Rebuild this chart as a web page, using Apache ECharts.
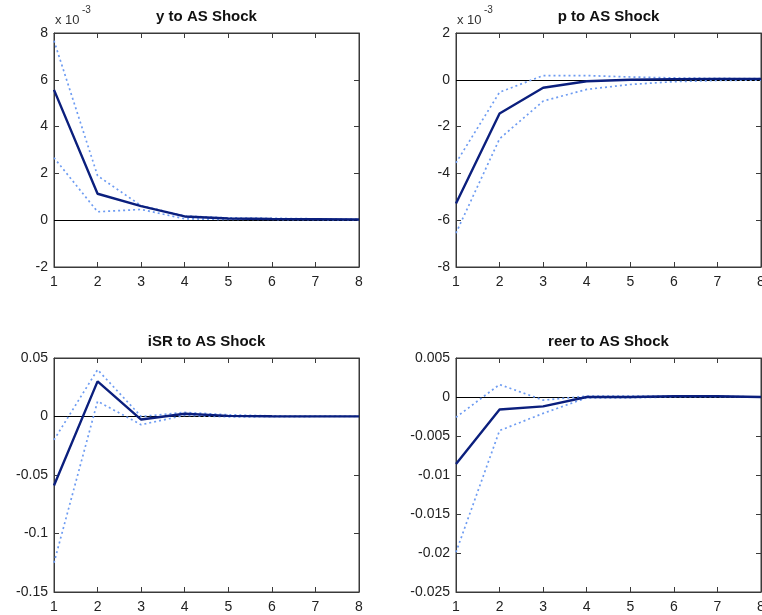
<!DOCTYPE html>
<html>
<head>
<meta charset="utf-8">
<script src="https://cdn.jsdelivr.net/npm/echarts@6/dist/echarts.min.js"></script>
<style>
  html, body { margin: 0; padding: 0; background: #fff; overflow: hidden; }
  #chart { width: 762px; height: 615px; }
</style>
</head>
<body>
<div id="chart"></div>
<script>
// Impulse responses to an AS shock over an 8-period horizon
const horizon = [1, 2, 3, 4, 5, 6, 7, 8];

// output (y)
const yIrf   = [0.00557, 0.00113, 0.00060, 0.00016, 0.00007, 0.00005, 0.00004, 0.00003];
const yUpper = [0.00767, 0.00190, 0.00062, 0.00018, 0.00010, 0.00008, 0.00006, 0.00004];
const yLower = [0.00267, 0.00036, 0.00046, 0.00006, 0.00003, 0.00003, 0.00002, 0.00001];

// prices (p)
const pIrf   = [-0.00529, -0.00144, -0.00034, -0.00006, 0.00000, 0.00003, 0.00004, 0.00004];
const pUpper = [-0.00355, -0.00053, 0.00018, 0.00018, 0.00012, 0.00008, 0.00006, 0.00005];
const pLower = [-0.00655, -0.00252, -0.00091, -0.00041, -0.00020, -0.00008, -0.00003, -0.00001];

// short rate (iSR)
const iIrf   = [-0.059, 0.030, -0.0026, 0.0023, 0.0005, 0.0002, 0.0001, 0.0001];
const iUpper = [-0.020, 0.040, 0.0000, 0.0035, 0.0015, 0.0005, 0.0003, 0.0002];
const iLower = [-0.125, 0.013, -0.0070, 0.0010, -0.0003, -0.0002, 0.0000, 0.0000];

// real effective exchange rate (reer)
const rIrf   = [-0.0086, -0.0016, -0.0012, 0.0000, 0.0000, 0.0001, 0.0001, 0.0000];
const rUpper = [-0.0026, 0.0016, -0.0004, 0.0001, 0.0001, 0.0001, 0.0001, 0.0000];
const rLower = [-0.0199, -0.0043, -0.0021, -0.0001, -0.0001, 0.0000, 0.0000, 0.0000];

const panelTitles = ['y to AS Shock', 'p to AS Shock', 'iSR to AS Shock', 'reer to AS Shock'];
const yRanges = [
  { min: -0.002, max: 0.008, interval: 0.002 },
  { min: -0.008, max: 0.002, interval: 0.002 },
  { min: -0.15, max: 0.05, interval: 0.05 },
  { min: -0.025, max: 0.005, interval: 0.005 }
];
const yTickLabels = [
  ['-2', '0', '2', '4', '6', '8'],
  ['-8', '-6', '-4', '-2', '0', '2'],
  ['-0.15', '-0.1', '-0.05', '0', '0.05'],
  ['-0.025', '-0.02', '-0.015', '-0.01', '-0.005', '0', '0.005']
];
const panels = [
  [yIrf, yUpper, yLower],
  [pIrf, pUpper, pLower],
  [iIrf, iUpper, iLower],
  [rIrf, rUpper, rLower]
];

const FONT = 'Liberation Sans, Arial, Helvetica, sans-serif';
const AXIS = '#3a3a3a';
const MAIN = '#0b1f7d';
const BAND = '#6e9cf2';

const boxes = [
  { left: 54,  top: 33 },
  { left: 456, top: 33 },
  { left: 54,  top: 358 },
  { left: 456, top: 358 }
];
const W = 305, H = 234;

const grid = [], xAxis = [], yAxis = [], series = [], graphic = [];

boxes.forEach((b, i) => {
  grid.push({ left: b.left, top: b.top, width: W, height: H, show: true,
              borderColor: AXIS, borderWidth: 1, backgroundColor: '#fff',
              containLabel: false, outerBoundsMode: 'none' });
  graphic.push({ type: 'text', x: b.left + W / 2, y: b.top - 16,
    style: { text: panelTitles[i], align: 'center', verticalAlign: 'middle',
             fontFamily: FONT, fontSize: 15, fontWeight: 'bold', fill: '#111' } });
  const r = yRanges[i];
  const labels = yTickLabels[i];
  const lab = v => {
    const k = Math.round((v - r.min) / r.interval);
    return labels[k] !== undefined ? labels[k] : '';
  };
  const tick = { show: true, inside: true, length: 5, lineStyle: { color: AXIS } };
  const line = { show: true, onZero: false, lineStyle: { color: AXIS, width: 1 } };
  // bottom & top x axes
  xAxis.push({ type: 'value', gridIndex: i, min: 1, max: 8, interval: 1, position: 'bottom',
    axisLine: line, axisTick: tick,
    axisLabel: { show: true, margin: 8, fontFamily: FONT, fontSize: 14, color: '#222' },
    splitLine: { show: false } });
  xAxis.push({ type: 'value', gridIndex: i, min: 1, max: 8, interval: 1, position: 'top',
    axisLine: line, axisTick: tick, axisLabel: { show: false }, splitLine: { show: false } });
  // left & right y axes
  yAxis.push({ type: 'value', gridIndex: i, min: r.min, max: r.max, interval: r.interval, position: 'left',
    axisLine: line, axisTick: tick,
    axisLabel: { show: true, margin: 6, fontFamily: FONT, fontSize: 14, color: '#222', formatter: lab },
    splitLine: { show: false } });
  yAxis.push({ type: 'value', gridIndex: i, min: r.min, max: r.max, interval: r.interval, position: 'right',
    axisLine: line, axisTick: tick, axisLabel: { show: false }, splitLine: { show: false } });

  const [irf, up, lo] = panels[i];
  const xi = i * 2, yi = i * 2;
  const pts = arr => horizon.map((h, k) => [h, arr[k]]);
  series.push({ type: 'line', xAxisIndex: xi, yAxisIndex: yi, data: pts(up), symbol: 'none',
    lineStyle: { color: BAND, width: 1.7, type: [2, 3] }, silent: true, z: 2 });
  series.push({ type: 'line', xAxisIndex: xi, yAxisIndex: yi, data: pts(lo), symbol: 'none',
    lineStyle: { color: BAND, width: 1.7, type: [2, 3] }, silent: true, z: 2 });
  series.push({ type: 'line', xAxisIndex: xi, yAxisIndex: yi, data: pts(irf), symbol: 'none',
    lineStyle: { color: MAIN, width: 2.4 }, silent: true, z: 3,
    markLine: { silent: true, symbol: 'none', label: { show: false },
      lineStyle: { color: '#000', width: 1, type: 'solid' }, data: [{ yAxis: 0 }], z: 1 } });
});

// exponent annotations for the two scaled panels
[boxes[0], boxes[1]].forEach(b => {
  graphic.push({ type: 'text', x: b.left + 1, y: 14,
    style: { text: 'x 10', fontFamily: FONT, fontSize: 13, fill: '#333' } });
  graphic.push({ type: 'text', x: b.left + 28, y: 5,
    style: { text: '-3', fontFamily: FONT, fontSize: 10, fill: '#333' } });
});

const chart = echarts.init(document.getElementById('chart'), null, { renderer: 'canvas' });
chart.setOption({ animation: false, backgroundColor: '#fff', grid, xAxis, yAxis, series, graphic });
</script>
</body>
</html>
